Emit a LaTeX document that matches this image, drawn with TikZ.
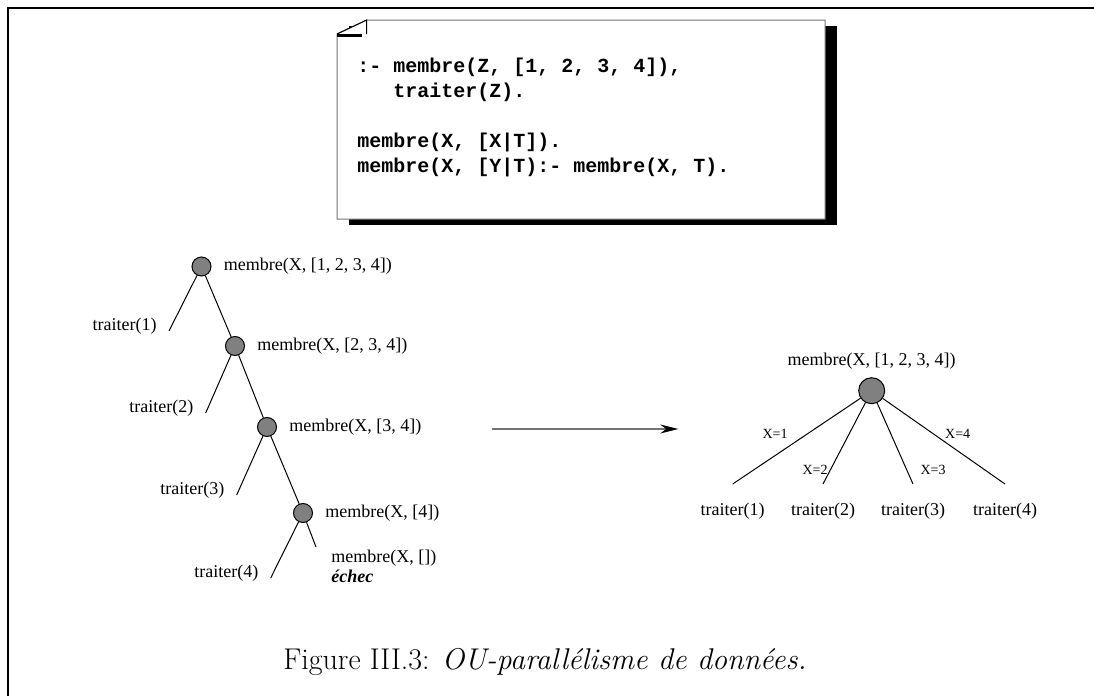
\documentclass[tikz,border=0pt]{standalone}
\usepackage{fontspec}
\usepackage{tikz}
\usetikzlibrary{arrows.meta, positioning}
\newfontfamily\treefont{Liberation Serif}
\newfontfamily\codefont{Liberation Mono}
\definecolor{nodegray}{rgb}{0.5,0.5,0.5}
\definecolor{boxline}{rgb}{0.45,0.45,0.45}

\begin{document}
\begin{tikzpicture}[x=0.5pt, y=-0.5pt,
    dot/.style={circle, draw, fill=nodegray, minimum size=9.5pt, inner sep=0pt, line width=0.5pt},
    bigdot/.style={dot, minimum size=13pt},
    goal/.style={font=\treefont\fontsize{9}{10}\selectfont, inner sep=1pt},
    xlabel/.style={font=\treefont\fontsize{7}{8}\selectfont, inner sep=0pt},
    branch/.style={line width=0.5pt},
    arrow/.style={-{Stealth[length=9pt, width=4.5pt, color=black]}, draw=black!55, line width=0.8pt}
]
\useasboundingbox (0,0) rectangle (1094,696);

% cadre
\draw[line width=1pt] (7.5,696) -- (7.5,7.5) -- (1094,7.5);

% programme
\fill (349,26) rectangle (837,225);
\filldraw[fill=white, draw=boxline, line width=0.5pt] (337,34) -- (366.7,20) -- (825,20) -- (825,219) -- (337,219) -- cycle;
\draw[line width=0.5pt] (337,34) -- (366.7,20) -- (366.7,34);
\fill (337,33.5) rectangle (361.5,36.5);
\node[font=\codefont\bfseries\fontsize{10}{12.25}\selectfont, align=left, anchor=north west, inner sep=0pt] (prog) at (357,58) {:- membre(Z, [1, 2, 3, 4]),\\
\hphantom{:- }traiter(Z).\\[13pt]
membre(X, [X|T]).\\
membre(X, [Y|T):- membre(X, T).};

% arbre de gauche
\node[dot] (n1) at (201.5,266.5) {};
\node[dot] (n2) at (235,346) {};
\node[dot] (n3) at (267,427) {};
\node[dot] (n4) at (303,513) {};
\node[goal, right=5pt of n1] (g1) {membre(X, [1, 2, 3, 4])};
\node[goal, right=5pt of n2] (g2) {membre(X, [2, 3, 4])};
\node[goal, right=5pt of n3] (g3) {membre(X, [3, 4])};
\node[goal, right=5pt of n4] (g4) {membre(X, [4])};

\coordinate (l1) at (169,331);
\coordinate (l2) at (205.7,413);
\coordinate (l3) at (236.7,495);
\coordinate (l4) at (270.7,578);
\coordinate (r4) at (316,547);
\node[goal, left=5pt of l1, yshift=2.5pt] (t1) {traiter(1)};
\node[goal, left=5pt of l2, yshift=2.5pt] (t2) {traiter(2)};
\node[goal, left=5pt of l3, yshift=2.5pt] (t3) {traiter(3)};
\node[goal, left=5pt of l4, yshift=2.5pt] (t4) {traiter(4)};
\node[goal, align=left, below right=0.5pt and 6.5pt of r4] (fail) {membre(X, [])\\\textbf{\textit{échec}}};

\draw[branch] (n1) -- (n2) -- (n3) -- (n4) -- (r4);
\draw[branch] (n1) -- (l1);
\draw[branch] (n2) -- (l2);
\draw[branch] (n3) -- (l3);
\draw[branch] (n4) -- (l4);

% fleche
\coordinate (a1) at (491.7,429);
\coordinate (a2) at (678.3,429);
\draw[arrow] (a1) -- (a2);

% arbre de droite
\node[bigdot] (root) at (871.7,390.7) {};
\node[goal, above=2.5pt of root] (rg) {membre(X, [1, 2, 3, 4])};
\foreach \i/\x in {1/732.7, 2/823, 3/913, 4/1005} {
  \coordinate (c\i) at (\x,484);
  \draw[branch] (root) -- (c\i);
  \node[goal, below=8.5pt of c\i] (rt\i) {traiter(\i)};
}
\node[xlabel] (x1) at (775,434) {X=1};
\node[xlabel] (x2) at (815,470) {X=2};
\node[xlabel] (x3) at (933,470) {X=3};
\node[xlabel] (x4) at (957.7,434) {X=4};

% legende
\node[font=\fontsize{15}{18}\selectfont] (caption) at (545,662) {Figure III.3: \textit{OU-parallélisme de données.}};

\end{tikzpicture}
\end{document}
